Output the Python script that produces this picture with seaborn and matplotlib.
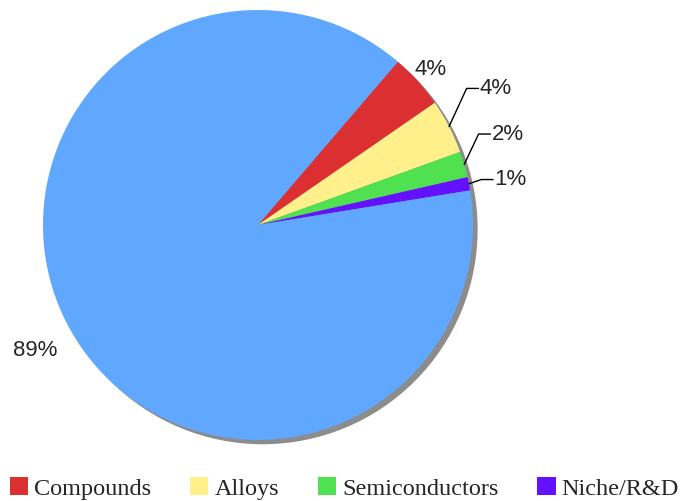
import matplotlib
matplotlib.use('Agg')
import matplotlib.pyplot as plt
from matplotlib.patches import Patch
import seaborn as sns
import numpy as np

# data
categories = ['Compounds', 'Alloys', 'Semiconductors', 'Niche/R&D', 'Other']
shares = [4.1, 4.1, 1.95, 1.0, 88.85]
pct_labels = ['4%', '4%', '2%', '1%', '89%']
colors = ['#dc2f32', '#fff08c', '#50e150', '#6411ff', '#60a8ff']

sns.set_theme(style='white')
plt.rcParams['font.family'] = ['Liberation Sans', 'DejaVu Sans']

fig = plt.figure(figsize=(6.98, 5.01), dpi=100)
ax = fig.add_axes([0, 0, 1, 1])

# grey drop shadow under the pie
ax.pie([1], colors=['#8c8c8c'], center=(0.022, -0.02), radius=1.0,
       wedgeprops={'linewidth': 0})
wedges, _ = ax.pie(shares, colors=colors, startangle=49.4, counterclock=False,
                   radius=1.0, wedgeprops={'linewidth': 0})

# label layout: (elbow radius, elbow angle) for leader lines, None = plain label
elbows = [None, (1.16, 33.2), (1.11, 22.4), (1.06, 11.5)]
for i, w in enumerate(wedges):
    mid = np.deg2rad((w.theta1 + w.theta2) / 2)
    if i == 0:
        ax.text(1.08 * np.cos(mid), 1.08 * np.sin(mid), pct_labels[i],
                ha='center', va='center', fontsize=16)
    elif i < 4:
        r_e, a_e = elbows[i]
        x0, y0 = np.cos(mid), np.sin(mid)
        xe, ye = r_e * np.cos(np.deg2rad(a_e)), r_e * np.sin(np.deg2rad(a_e))
        ax.plot([x0, xe, xe + 0.055], [y0, ye, ye], color='black', lw=1)
        ax.text(xe + 0.06, ye, pct_labels[i], ha='left', va='center', fontsize=16)
    else:
        a = np.deg2rad(209.3)
        ax.text(1.19 * np.cos(a), 1.19 * np.sin(a), pct_labels[i],
                ha='center', va='center', fontsize=16)

ax.set_xlim(-1.2, 2.047)
ax.set_ylim(-1.284, 1.0465)
ax.axis('off')

handles = [Patch(facecolor=c, edgecolor='none') for c in colors[:4]]
fig.legend(handles, categories[:4], loc='lower left', bbox_to_anchor=(0.0, -0.017),
           ncol=4, frameon=False, handlelength=0.75, handleheight=0.75,
           handletextpad=0.25, columnspacing=1.6, borderaxespad=0,
           prop={'family': 'Liberation Serif', 'size': 17.5})

fig.savefig('out.png', dpi=100)
